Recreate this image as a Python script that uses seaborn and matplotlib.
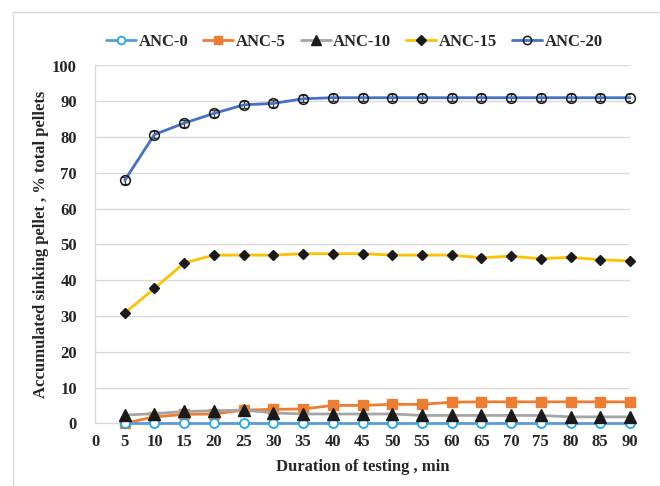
import numpy as np
import pandas as pd
import seaborn as sns
import matplotlib
matplotlib.use("Agg")
import matplotlib.pyplot as plt
from matplotlib.patches import Rectangle
from matplotlib.lines import Line2D

# ---- data ----
minutes = [5, 10, 15, 20, 25, 30, 35, 40, 45, 50, 55, 60, 65, 70, 75, 80, 85, 90]
anc0 = [0] * 18
anc5 = [0.0, 1.8, 2.5, 2.6, 3.7, 3.9, 4.0, 5.0, 5.0, 5.3, 5.3, 5.9, 6.0, 6.0, 6.0, 6.0, 6.0, 6.0]
anc10 = [2.3, 2.7, 3.3, 3.5, 3.7, 2.9, 2.6, 2.6, 2.6, 2.6, 2.2, 2.2, 2.2, 2.2, 2.2, 1.8, 1.8, 1.8]
anc15 = [30.8, 37.7, 44.8, 47.0, 47.0, 47.0, 47.4, 47.4, 47.4, 47.0, 47.0, 47.0, 46.3, 46.7, 46.0, 46.4, 45.7, 45.4]
anc20 = [67.9, 80.7, 83.9, 86.6, 89.0, 89.4, 90.7, 91.0, 91.0, 91.0, 91.0, 91.0, 91.0, 91.0, 91.0, 91.0, 91.0, 91.0]
err15 = [0.6] * 18
err20 = [1.0] * 18
series_names = ["ANC-0", "ANC-5", "ANC-10", "ANC-15", "ANC-20"]
x_ticks = list(range(0, 95, 5))
y_ticks = list(range(0, 110, 10))

df = pd.DataFrame({
    "min": minutes * 5,
    "val": anc0 + anc5 + anc10 + anc15 + anc20,
    "series": sum([[n] * len(minutes) for n in series_names], []),
})

sns.set_theme(style="white")
plt.rcParams["font.family"] = ["Liberation Serif", "DejaVu Serif"]
plt.rcParams["font.weight"] = "bold"

fig = plt.figure(figsize=(6.6, 4.86), dpi=100)
ax = fig.add_axes([95 / 660, 1 - 423.3 / 486, (630 - 95) / 660, (423.3 - 65.5) / 486])

styles = {
    "ANC-0": dict(color="#5B9BD5", marker="o", mfc="white", mec="#1FA9E8", ms=6.5, mew=1.3),
    "ANC-5": dict(color="#ED7D31", marker="s", mfc="#ED7D31", mec="#ED7D31", ms=7, mew=1),
    "ANC-10": dict(color="#A5A5A5", marker="^", mfc="#1A1A1A", mec="#1A1A1A", ms=8, mew=1),
    "ANC-15": dict(color="#FFC000", marker="D", mfc="#1A1A1A", mec="#1A1A1A", ms=5.5, mew=1),
    "ANC-20": dict(color="#4472C4", marker="o", mfc="none", mec="#1A1A1A", ms=7, mew=1.1),
}
zorders = {"ANC-0": 5, "ANC-5": 4, "ANC-10": 6, "ANC-15": 4, "ANC-20": 4}

# error bars
ax.errorbar(minutes, anc15, yerr=err15, fmt="none", ecolor="#333333", elinewidth=0.8, capsize=2.5, zorder=3)
ax.errorbar(minutes, anc20, yerr=err20, fmt="none", ecolor="#333333", elinewidth=0.8, capsize=3, zorder=3)

for name in series_names:
    st = styles[name]
    sub = df[df.series == name]
    sns.lineplot(data=sub, x="min", y="val", ax=ax, label=name, color=st["color"],
                 marker=st["marker"], markerfacecolor=st["mfc"], markeredgecolor=st["mec"],
                 markersize=st["ms"], markeredgewidth=st["mew"], linewidth=2.0,
                 zorder=zorders[name], clip_on=False, legend=False)

ax.set_xlim(0, 90)
ax.set_ylim(0, 100)
ax.set_xticks(x_ticks)
ax.set_yticks(y_ticks)
ax.yaxis.grid(True, color="#D9D9D9", linewidth=1.0)
ax.set_axisbelow(True)
for s in ["top", "right"]:
    ax.spines[s].set_visible(False)
for s in ["left", "bottom"]:
    ax.spines[s].set_color("#D9D9D9")
    ax.spines[s].set_linewidth(1.0)
ax.tick_params(axis="both", length=0, labelsize=12, pad=8)
for lab in ax.get_xticklabels() + ax.get_yticklabels():
    lab.set_fontweight("bold")
ax.tick_params(axis="y", pad=13)
ax.set_xlabel("Duration of testing , min", fontsize=12, fontweight="bold", labelpad=6)
ax.set_ylabel("Accumulated sinking pellet , % total pellets", fontsize=12, fontweight="bold", labelpad=2)

handles = [Line2D([], [], color=styles[n]["color"], marker=styles[n]["marker"],
                  markerfacecolor=styles[n]["mfc"], markeredgecolor=styles[n]["mec"],
                  markersize=styles[n]["ms"] * 0.85, markeredgewidth=styles[n]["mew"], linewidth=2.0)
           for n in series_names]
fig.legend(handles, series_names, loc="center", bbox_to_anchor=(0.537, 1 - 42 / 486), ncol=5,
           frameon=False, prop=dict(family="Liberation Serif", weight="bold", size=12),
           handlelength=1.8, handletextpad=0.15, columnspacing=0.9)

fig.patches.append(Rectangle((13 / 660, -0.1), 1.2, 1 - 12 / 486 + 0.1, transform=fig.transFigure,
                             fill=False, edgecolor="#D9D9D9", linewidth=1.0, zorder=-1))

fig.savefig("out.png", dpi=100)
